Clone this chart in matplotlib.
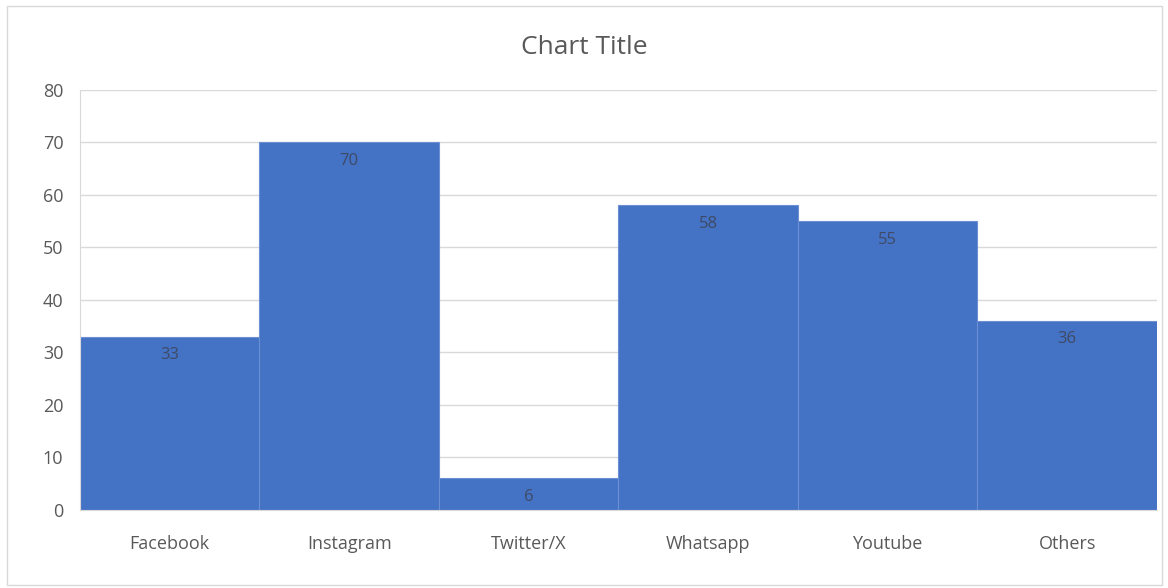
import matplotlib
matplotlib.use('Agg')
import matplotlib.pyplot as plt
from matplotlib.patches import Rectangle

categories = ["Facebook", "Instagram", "Twitter/X", "Whatsapp", "Youtube", "Others"]
values = [33, 70, 6, 58, 55, 36]
y_ticks = [0, 10, 20, 30, 40, 50, 60, 70, 80]

plt.rcParams['font.family'] = ['Open Sans', 'DejaVu Sans']

fig = plt.figure(figsize=(11.68, 5.88), dpi=100)
fig.patch.set_facecolor("white")
fig.patches.append(Rectangle((0.006, 0.005), 0.989, 0.985, transform=fig.transFigure,
                             fill=False, edgecolor="#d9d9d9", linewidth=1))

ax = fig.add_axes([0.0685, 0.1327, 0.922, 0.7143])
x = list(range(len(categories)))
bars = ax.bar(x, values, width=1.0, color="#4472C4", edgecolor="#6a8fd4", linewidth=0.8, zorder=2)

for xi, v in zip(x, values):
    ax.text(xi, v - 2.0, str(v), ha="center", va="top", fontsize=12, color="#3f4a66", zorder=3)

ax.set_xlim(-0.5, len(categories) - 0.5)
ax.set_ylim(0, 80)
ax.set_yticks(y_ticks)
ax.set_xticks(x)
ax.set_xticklabels(categories)
ax.grid(axis="y", color="#d9d9d9", linewidth=1, zorder=0)
ax.set_axisbelow(True)
for s in ["top", "right"]:
    ax.spines[s].set_visible(False)
ax.spines["left"].set_color("#d9d9d9")
ax.spines["bottom"].set_color("#d9d9d9")
ax.tick_params(axis="both", length=0, labelsize=13, labelcolor="#595959")
ax.tick_params(axis="x", pad=18)
ax.tick_params(axis="y", pad=12)

fig.text(0.5, 0.92, "Chart Title", ha="center", va="center", fontsize=19, color="#595959")

plt.savefig("out.png", dpi=100)
